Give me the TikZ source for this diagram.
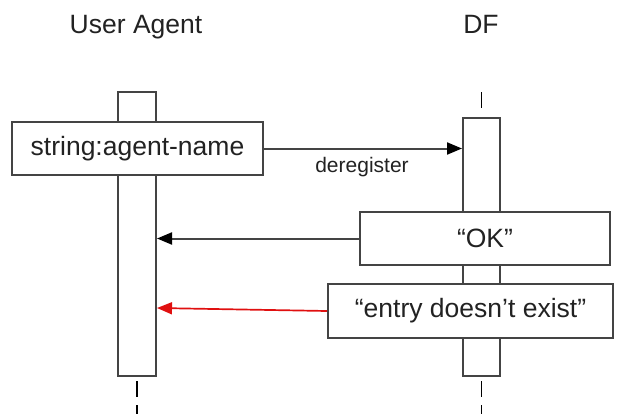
\documentclass[tikz,border=0pt]{standalone}
\usepackage{fontspec}
\setmainfont{Liberation Sans}
\usetikzlibrary{arrows.meta,calc}
\definecolor{edgegray}{HTML}{444444}
\definecolor{inkgray}{HTML}{222222}
\definecolor{replyred}{HTML}{E01010}
\newcommand{\straightdq}{\char"0022\relax}
\tikzset{
  title/.style={font=\fontsize{26.5}{30}\selectfont, text=inkgray, anchor=base},
  actbar/.style={draw=edgegray, line width=2pt, fill=white, inner sep=0pt},
  msgbox/.style={draw=edgegray, line width=2pt, fill=white, inner sep=0pt,
    font=\fontsize{26.5}{30}\selectfont, text=inkgray},
  lifeline/.style={draw=black, line width=1.8pt},
  msg/.style={draw=edgegray, line width=2pt,
    -{Triangle[length=15pt,width=12pt,color=black]}},
  redmsg/.style={draw=replyred, line width=1.7pt,
    -{Triangle[length=15pt,width=12pt,color=replyred]}},
  msglabel/.style={font=\fontsize{21}{24}\selectfont, text=inkgray, anchor=base}
}
\begin{document}
\begin{tikzpicture}[x=1pt,y=-1pt]
\useasboundingbox (0,0) rectangle (643,413);

% participant names
\node[title] (uaTitle) at (136,33) {User Agent};
\node[title] (dfTitle) at (481,33) {DF};

% lifeline stubs
\coordinate (dfTop) at (481.5,92);
\coordinate (uaLow) at (137,381);
\coordinate (uaEnd) at (137,420);
\coordinate (dfLow) at (481.5,381);
\coordinate (dfEnd) at (481.5,420);

% activation bars
\node[actbar, minimum width=38pt, minimum height=284pt] (uaBar) at (137,234) {};
\node[actbar, minimum width=37pt, minimum height=258pt] (dfBar) at (481.5,247) {};

\draw[lifeline, dash pattern=on 16pt off 30pt] (dfTop) -- (dfBar.north);
\draw[lifeline, dash pattern=on 16pt off 8pt] (uaLow) -- (uaEnd);
\draw[lifeline, dash pattern=on 16pt off 8pt] (dfLow) -- (dfEnd);

% message boxes
\node[msgbox, minimum width=251pt, minimum height=53pt] (nameBox) at (137.5,148.5) {string:agent-name};
\node[msgbox, minimum width=250pt, minimum height=53pt] (okBox) at (485,238.5) {“OK\straightdq};
\node[msgbox, minimum width=285pt, minimum height=54pt] (errBox) at (470.5,311) {“entry doesn’t exist\straightdq};

% messages
\draw[msg] (nameBox.east) -- (nameBox.east -| dfBar.west);
\node[msglabel] (deregLabel) at (362,172) {deregister};
\draw[msg] (okBox.west) -- (okBox.west -| uaBar.east);
\coordinate (errTip) at ($(errBox.west -| uaBar.east)+(0,-3)$);
\draw[redmsg] (errBox.west) -- (errTip);
\end{tikzpicture}
\end{document}
